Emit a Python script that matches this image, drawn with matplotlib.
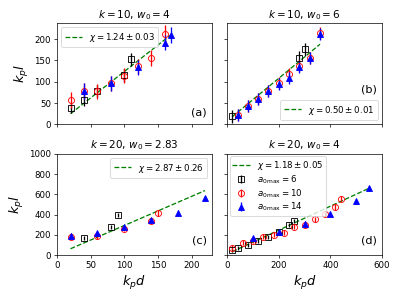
"""
k_p l versus k_p d for four (k, w0) settings, with linear fits.
"""

import matplotlib

matplotlib.use("Agg")
import matplotlib.pyplot as plt

# ---------------------------------------------------------------------------
# Data
# ---------------------------------------------------------------------------
# Panel (a): k = 10, w0 = 4
a_x6 = [20, 40, 60, 100, 110]
a_y6 = [38, 57, 78, 115, 153]
a_e6 = [12, 15, 14, 15, 15]
a_x10 = [20, 40, 60, 80, 100, 120, 140, 160]
a_y10 = [57, 78, 77, 96, 114, 136, 156, 213]
a_e10 = [18, 18, 18, 18, 18, 18, 18, 20]
a_x14 = [40, 80, 120, 160, 170]
a_y14 = [78, 96, 134, 192, 210]
a_e14 = [18, 18, 18, 18, 18]

# Panel (b): k = 10, w0 = 6
b_x6 = [20, 280, 300]
b_y6 = [19, 156, 176]
b_e6 = [15, 15, 15]
b_x10 = [40, 80, 120, 160, 200, 240, 280, 320, 360]
b_y10 = [21, 42, 60, 78, 96, 117, 137, 156, 214]
b_e10 = [14, 14, 14, 14, 14, 14, 14, 14, 14]
b_x14 = [40, 80, 120, 160, 200, 240, 280, 320, 360]
b_y14 = [21, 42, 60, 78, 94, 108, 134, 155, 213]
b_e14 = [14, 14, 14, 14, 14, 14, 14, 14, 14]

# Panel (c): k = 20, w0 = 2.83
c_x6 = [40, 80, 90]
c_y6 = [168, 275, 394]
c_e6 = [20, 20, 20]
c_x10 = [20, 60, 100, 140, 150]
c_y10 = [183, 186, 258, 340, 415]
c_e10 = [25, 25, 25, 25, 25]
c_x14 = [20, 60, 100, 140, 180, 220]
c_y14 = [190, 215, 273, 345, 415, 560]
c_e14 = [25, 25, 25, 25, 25, 25]

# Panel (d): k = 20, w0 = 4
d_x6 = [20, 40, 80, 120, 160, 200, 240, 260]
d_y6 = [52, 67, 100, 137, 178, 228, 301, 334]
d_e6 = [20, 20, 20, 20, 20, 20, 20, 20]
d_x10 = [20, 60, 100, 140, 180, 220, 260, 300, 340, 380, 420, 440]
d_y10 = [72, 124, 141, 180, 203, 222, 278, 294, 353, 409, 474, 556]
d_e10 = [25, 25, 25, 25, 25, 25, 25, 25, 25, 25, 25, 25]
d_x14 = [100, 200, 300, 400, 500, 550]
d_y14 = [164, 229, 311, 409, 533, 661]
d_e14 = [25, 25, 25, 25, 25, 25]

# Linear fits: slope (chi), error, intercept, fit range
fit_chi = [1.24, 0.50, 2.87, 1.18]
fit_err = [0.03, 0.01, 0.26, 0.05]
fit_b = [0.0, 8.0, 5.0, 10.0]
fit_lo = [20, 20, 20, 20]
fit_hi = [170, 360, 220, 550]

titles = [r"$k=10$, $w_0=4$", r"$k=10$, $w_0=6$",
          r"$k=20$, $w_0=2.83$", r"$k=20$, $w_0=4$"]
letters = ["(a)", "(b)", "(c)", "(d)"]
a0_labels = [r"$a_{0\mathrm{max}}=6$", r"$a_{0\mathrm{max}}=10$",
             r"$a_{0\mathrm{max}}=14$"]

panels = [
    [(a_x6, a_y6, a_e6), (a_x10, a_y10, a_e10), (a_x14, a_y14, a_e14)],
    [(b_x6, b_y6, b_e6), (b_x10, b_y10, b_e10), (b_x14, b_y14, b_e14)],
    [(c_x6, c_y6, c_e6), (c_x10, c_y10, c_e10), (c_x14, c_y14, c_e14)],
    [(d_x6, d_y6, d_e6), (d_x10, d_y10, d_e10), (d_x14, d_y14, d_e14)],
]

styles = [
    dict(fmt="s", color="k", mfc="none"),
    dict(fmt="o", color="r", mfc="none"),
    dict(fmt="^", color="b"),
]

legend_loc = ["upper left", "lower right", "upper right", "upper left"]
letter_y = [0.12, 0.34, 0.14, 0.14]

fig, axes = plt.subplots(2, 2, figsize=(6.4, 4.78), sharex="col", sharey="row")
axes = axes.ravel()

for i, ax in enumerate(axes):
    lo, hi = fit_lo[i], fit_hi[i]
    line, = ax.plot(
        [lo, hi],
        [fit_chi[i] * lo + fit_b[i], fit_chi[i] * hi + fit_b[i]],
        "g--",
        label=rf"$\chi={fit_chi[i]:.2f}\pm{fit_err[i]:.2f}$",
    )
    handles = [line]
    for (x, y, e), st, lab in zip(panels[i], styles, a0_labels):
        h = ax.errorbar(x, y, yerr=e, ms=7, label=lab, **st)
        handles.append(h)
    if i == 3:
        ax.legend(handles=handles, loc=legend_loc[i], fontsize=10,
                  labelspacing=0.15, borderpad=0.3, borderaxespad=0.3)
    else:
        ax.legend(handles=[line], loc=legend_loc[i], fontsize=10)
    ax.set_title(titles[i], fontsize=12)
    ax.text(0.97, letter_y[i], letters[i], transform=ax.transAxes,
            ha="right", va="center", fontsize=13)

axes[0].set_xlim(0, 230)
axes[1].set_xlim(0, 600)
axes[1].set_xticks([0, 200, 400, 600])
axes[0].set_ylim(0, 238)
axes[2].set_ylim(0, 1000)
axes[0].set_ylabel(r"$k_p l$", fontsize=15)
axes[2].set_ylabel(r"$k_p l$", fontsize=15)
axes[2].set_xlabel(r"$k_p d$", fontsize=15)
axes[3].set_xlabel(r"$k_p d$", fontsize=15)

fig.subplots_adjust(left=0.143, right=0.957, top=0.923, bottom=0.144,
                    wspace=0.1, hspace=0.29)
fig.savefig("out.png", dpi=62.35)
